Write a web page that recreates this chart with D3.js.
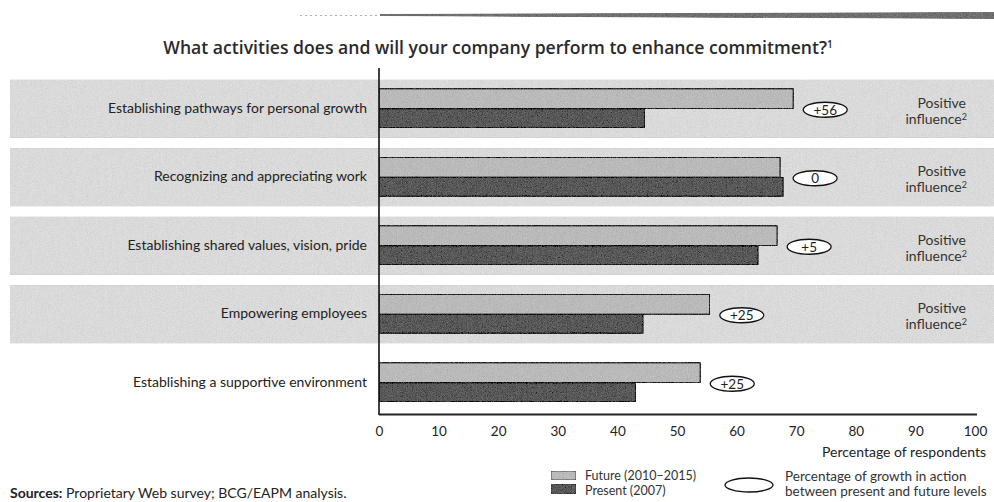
<!DOCTYPE html>
<html>
<head>
<meta charset="utf-8">
<script src="https://cdn.jsdelivr.net/npm/d3@7"></script>
<style>
  html, body { margin: 0; padding: 0; background: #ffffff; }
  svg { display: block; }
  text { font-family: Lato, "Open Sans", sans-serif; fill: #1e1e1e; }
</style>
</head>
<body>
<svg id="chart" width="994" height="502"></svg>
<script>
// ---------- data ----------
const categories = [
  "Establishing pathways for personal growth",
  "Recognizing and appreciating work",
  "Establishing shared values, vision, pride",
  "Empowering employees",
  "Establishing a supportive environment"
];
const futureValues  = [69.5, 67.3, 66.8, 55.5, 53.9];
const presentValues = [44.6, 67.8, 63.6, 44.3, 43.1];
const growthLabels  = ["+56", "0", "+5", "+25", "+25"];
const positiveInfluence = [true, true, true, true, false];
const xTickValues = [0, 10, 20, 30, 40, 50, 60, 70, 80, 90, 100];
const seriesNames = ["Future (2010\u20132015)", "Present (2007)"];

// ---------- setup ----------
const W = 994, H = 502;
const svg = d3.select("#chart");

const defs = svg.append("defs");
const f = defs.append("filter").attr("id", "grain")
  .attr("x", 0).attr("y", 0).attr("width", "100%").attr("height", "100%");
f.append("feTurbulence").attr("type", "fractalNoise").attr("baseFrequency", 1.2)
  .attr("numOctaves", 1).attr("seed", 3).attr("result", "noise");
f.append("feColorMatrix").attr("in", "noise").attr("type", "matrix")
  .attr("values", "0.33 0.33 0.33 0 0  0.33 0.33 0.33 0 0  0.33 0.33 0.33 0 0  0 0 0 0 1")
  .attr("result", "gnoise");
f.append("feComposite").attr("in", "SourceGraphic").attr("in2", "gnoise")
  .attr("operator", "arithmetic").attr("k1", 0).attr("k2", 1).attr("k3", 0.4).attr("k4", -0.2)
  .attr("result", "mix");
f.append("feComposite").attr("in", "mix").attr("in2", "SourceAlpha").attr("operator", "in");

const x = d3.scaleLinear().domain([0, 100]).range([379, 975]);
const y = d3.scaleBand().domain(categories).range([74.5, 417])
  .paddingInner(0.15).paddingOuter(0.075);
const center = d => y(d) + y.bandwidth() / 2;

// ---------- decorative top rule ----------
svg.append("path")
  .attr("d", "M300,15.5 L380,15.5")
  .attr("stroke", "#b0b0b0").attr("stroke-width", 1).attr("stroke-dasharray", "2,3");
svg.append("path")
  .attr("d", "M380,14 L994,12 L994,19 L380,16 Z")
  .attr("fill", "#707070").attr("filter", "url(#grain)");

// ---------- title ----------
svg.append("text")
  .attr("x", 498).attr("y", 54)
  .attr("text-anchor", "middle")
  .style("font-family", "'Open Sans', sans-serif")
  .style("font-size", "17.6px").style("font-weight", 600).style("fill", "#2a2a2a")
  .text("What activities does and will your company perform to enhance commitment?")
  .append("tspan").attr("dy", -6).style("font-size", "10px").text("1");

// ---------- rows ----------
const rows = categories.map((c, i) => ({
  cat: c, future: futureValues[i], present: presentValues[i],
  growth: growthLabels[i], pos: positiveInfluence[i]
}));

// background bands
svg.append("g").selectAll("rect")
  .data(rows.filter(r => r.pos))
  .join("rect")
  .attr("x", 10).attr("width", W - 10)
  .attr("y", d => y(d.cat)).attr("height", y.bandwidth())
  .attr("fill", "#dadada").attr("filter", "url(#grain)");

// ---------- bars ----------
const barG = svg.append("g");
barG.selectAll("rect.future")
  .data(rows).join("rect").attr("class", "future")
  .attr("x", x(0)).attr("y", d => center(d.cat) - 20)
  .attr("width", d => x(d.future) - x(0)).attr("height", 20)
  .attr("fill", "#bababa").attr("stroke", "#111").attr("stroke-width", 1.2)
  .attr("filter", "url(#grain)");
barG.selectAll("rect.present")
  .data(rows).join("rect").attr("class", "present")
  .attr("x", x(0)).attr("y", d => center(d.cat))
  .attr("width", d => x(d.present) - x(0)).attr("height", 19)
  .attr("fill", "#595959").attr("stroke", "#111").attr("stroke-width", 1.2)
  .attr("filter", "url(#grain)");

// ---------- category labels ----------
svg.append("g").selectAll("text")
  .data(rows).join("text")
  .attr("x", 367).attr("y", d => center(d.cat) + 4)
  .attr("text-anchor", "end")
  .style("font-size", "14px").style("fill", "#222")
  .text(d => d.cat);

// ---------- growth ellipses ----------
const eg = svg.append("g").selectAll("g")
  .data(rows).join("g")
  .attr("transform", d => `translate(${x(Math.max(d.future, d.present)) + 32},${center(d.cat) + 1})`);
eg.append("ellipse").attr("rx", 22).attr("ry", 7.5)
  .attr("fill", "#ffffff").attr("stroke", "#111").attr("stroke-width", 1.3);
eg.append("text").attr("text-anchor", "middle").attr("y", 5)
  .style("font-size", "13.5px").text(d => d.growth);

// ---------- positive influence notes ----------
const pg = svg.append("g").selectAll("g")
  .data(rows.filter(r => r.pos)).join("g");
pg.append("text").attr("x", 966).attr("y", d => center(d.cat) - 1)
  .attr("text-anchor", "end").style("font-size", "14px").style("fill", "#333")
  .text("Positive");
const infl = pg.append("text").attr("x", 967).attr("y", d => center(d.cat) + 15)
  .attr("text-anchor", "end").style("font-size", "14px").style("fill", "#333")
  .text("influence");
infl.append("tspan").attr("dy", -4).style("font-size", "9px").text("2");

// ---------- axes ----------
svg.append("line")
  .attr("x1", x(0)).attr("x2", x(0)).attr("y1", 68).attr("y2", 415)
  .attr("stroke", "#111").attr("stroke-width", 1.6);
svg.append("line")
  .attr("x1", x(0)).attr("x2", 977).attr("y1", 414.5).attr("y2", 414.5)
  .attr("stroke", "#222").attr("stroke-width", 2);

const axis = d3.axisBottom(x).tickValues(xTickValues).tickSize(0).tickPadding(0);
const ag = svg.append("g").attr("transform", "translate(0,423)").call(axis);
ag.select(".domain").remove();
ag.selectAll("text").style("font-size", "13.5px").style("font-family", "Lato, sans-serif")
  .style("fill", "#222").attr("dy", "0.95em");

svg.append("text").attr("x", 986).attr("y", 457).attr("text-anchor", "end")
  .style("font-size", "14px").style("fill", "#222").text("Percentage of respondents");

// ---------- legend ----------
const lg = svg.append("g");
const swFill = ["#bababa", "#595959"];
seriesNames.forEach((name, i) => {
  lg.append("rect").attr("x", 551).attr("y", 471 + i * 13.5).attr("width", 25).attr("height", 9)
    .attr("fill", swFill[i]).attr("stroke", "#333").attr("stroke-width", 0.8)
    .attr("filter", "url(#grain)");
  lg.append("text").attr("x", 585).attr("y", 480 + i * 14.5)
    .style("font-size", "12.5px").style("fill", "#333").text(name);
});
lg.append("ellipse").attr("cx", 749).attr("cy", 485).attr("rx", 24).attr("ry", 7)
  .attr("fill", "#fff").attr("stroke", "#111").attr("stroke-width", 1.3);
lg.append("text").attr("x", 785).attr("y", 481)
  .style("font-size", "13.5px").style("fill", "#333").text("Percentage of growth in action");
lg.append("text").attr("x", 785).attr("y", 496)
  .style("font-size", "13.5px").style("fill", "#333").text("between present and future levels");

// ---------- sources ----------
const src = svg.append("text").attr("x", 10).attr("y", 498)
  .style("font-size", "14px").style("fill", "#222");
src.append("tspan").style("font-weight", 700).text("Sources:");
src.append("tspan").text(" Proprietary Web survey; BCG/EAPM analysis.");
</script>
</body>
</html>
